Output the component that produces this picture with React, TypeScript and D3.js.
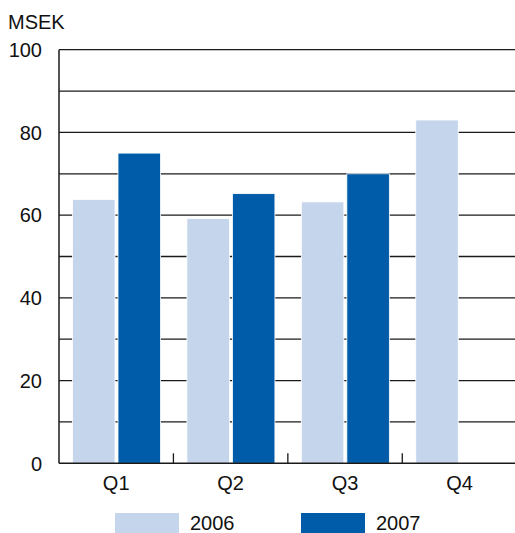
import React, { useRef, useEffect } from 'react';
import * as d3 from 'd3';

const quarters = ['Q1', 'Q2', 'Q3', 'Q4'];
const years = ['2006', '2007'];
const values2006 = [63.8, 59.2, 63.2, 83];
const values2007: (number | null)[] = [75, 65.2, 70, null];
const yTicks = [0, 20, 40, 60, 80, 100];
const gridValues = [10, 20, 30, 40, 50, 60, 70, 80, 90, 100];
const colors = ['#c5d5ec', '#005ba9'];

const App = () => {
  const ref = useRef<SVGSVGElement>(null);

  useEffect(() => {
    const width = 515;
    const height = 533;
    const left = 59;
    const right = 516.7;
    const top = 49.7;
    const bottom = 463.3;
    const font = 'Liberation Sans, Arial, Helvetica, sans-serif';

    const svg = d3.select(ref.current);
    svg.selectAll('*').remove();
    svg.attr('width', width).attr('height', height);

    const x = d3.scaleBand().domain(quarters).range([left, right]);
    const y = d3.scaleLinear().domain([0, 100]).range([bottom, top]);

    // gridlines
    svg
      .selectAll('line.grid')
      .data(gridValues)
      .enter()
      .append('line')
      .attr('x1', left)
      .attr('x2', width)
      .attr('y1', (d) => y(d))
      .attr('y2', (d) => y(d))
      .attr('stroke', '#1a1a1a')
      .attr('stroke-width', 1.3);

    // bars
    const inner = x.bandwidth();
    const barW = 42.5;
    const padL = 13.5;
    const gap = 3;
    const series = [values2006, values2007];
    series.forEach((vals, si) => {
      svg
        .selectAll(`rect.s${si}`)
        .data(vals.map((v, i) => ({ q: quarters[i], v })).filter((d) => d.v != null))
        .enter()
        .append('rect')
        .attr('x', (d) => (x(d.q) as number) + padL + si * (barW + gap))
        .attr('y', (d) => y(d.v as number))
        .attr('width', barW)
        .attr('height', (d) => bottom - y(d.v as number))
        .attr('fill', colors[si])
        .attr('stroke', '#fff')
        .attr('stroke-width', 0.8);
    });
    void inner;

    // axes
    svg
      .append('line')
      .attr('x1', left)
      .attr('x2', left)
      .attr('y1', top)
      .attr('y2', bottom)
      .attr('stroke', '#1a1a1a')
      .attr('stroke-width', 1.5);
    svg
      .append('line')
      .attr('x1', left)
      .attr('x2', width)
      .attr('y1', bottom)
      .attr('y2', bottom)
      .attr('stroke', '#1a1a1a')
      .attr('stroke-width', 1.5);

    // category ticks between quarters
    svg
      .selectAll('line.tick')
      .data(quarters.slice(1))
      .enter()
      .append('line')
      .attr('x1', (d) => x(d) as number)
      .attr('x2', (d) => x(d) as number)
      .attr('y1', bottom - 10)
      .attr('y2', bottom)
      .attr('stroke', '#1a1a1a')
      .attr('stroke-width', 1.3);

    // y labels
    svg
      .selectAll('text.ylab')
      .data(yTicks)
      .enter()
      .append('text')
      .attr('x', 42)
      .attr('y', (d) => y(d))
      .attr('dy', '0.36em')
      .attr('text-anchor', 'end')
      .style('font-family', font)
      .style('font-size', '20px')
      .attr('fill', '#111')
      .text((d) => d);

    svg
      .append('text')
      .attr('x', 8)
      .attr('y', 29.3)
      .style('font-family', font)
      .style('font-size', '20px')
      .attr('fill', '#111')
      .text('MSEK');

    // x labels
    svg
      .selectAll('text.xlab')
      .data(quarters)
      .enter()
      .append('text')
      .attr('x', (d) => (x(d) as number) + x.bandwidth() / 2)
      .attr('y', 490)
      .attr('text-anchor', 'middle')
      .style('font-family', font)
      .style('font-size', '20px')
      .attr('fill', '#111')
      .text((d) => d);

    // legend
    const legendX = [115, 301];
    years.forEach((yr, i) => {
      svg
        .append('rect')
        .attr('x', legendX[i])
        .attr('y', 513)
        .attr('width', 64)
        .attr('height', 20)
        .attr('fill', colors[i]);
      svg
        .append('text')
        .attr('x', legendX[i] + 75)
        .attr('y', 530)
        .style('font-family', font)
        .style('font-size', '20px')
        .attr('fill', '#111')
        .text(yr);
    });
  }, []);

  return (
    <div style={{ position: 'absolute', left: 0, top: 0 }}>
      <svg ref={ref} style={{ display: 'block' }}></svg>
    </div>
  );
};

export default App;
